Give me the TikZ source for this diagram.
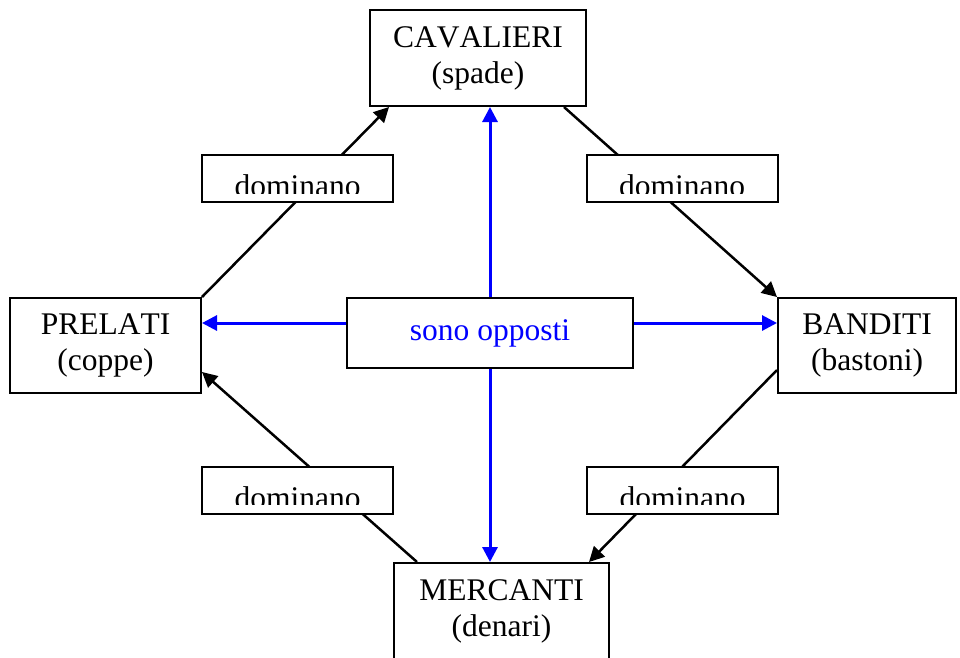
\documentclass[tikz,border=0pt]{standalone}
\usepackage{fontspec}
\setmainfont[Kerning=Off]{Liberation Serif}
\usetikzlibrary{shapes}
\usetikzlibrary{arrows.meta}
\tikzstyle{suit} = [rectangle, draw=black, line width=2pt, fill=white, align=center, inner sep=0pt, font=\fontsize{31.5}{36}\selectfont]
\tikzstyle{verb} = [rectangle, draw=black, line width=2pt, fill=white, minimum width=191pt, minimum height=47pt, inner sep=0pt]
\tikzstyle{verbtext} = [font=\fontsize{31.5}{36}\selectfont, inner sep=0pt, anchor=base]
\tikzstyle{dom} = [draw=black, line width=2.5pt, -{Triangle[length=15pt,width=15pt]}]
\tikzstyle{opp} = [draw=blue, line width=3pt, -{Triangle[length=15pt,width=15pt]}]

\begin{document}
\begin{tikzpicture}[x=1pt,y=-1pt]

    \useasboundingbox (0,0) rectangle (960,657);
    \clip (0,0) rectangle (960,657);

    \node[suit, minimum width=216pt, minimum height=96pt] (cav) at (478,58) {CAVALIERI\\(spade)};
    \node[suit, minimum width=191pt, minimum height=95pt] (prel) at (105.5,345.5) {PRELATI\\(coppe)};
    \node[suit, minimum width=178pt, minimum height=95pt] (band) at (867,345.5) {BANDITI\\(bastoni)};
    \node[suit, minimum width=215pt, minimum height=96pt] (merc) at (501.5,611) {MERCANTI\\(denari)};
    \node[suit, minimum width=286pt, minimum height=70pt, text=blue] (opp) at (490,333) {sono opposti};

    % black arrows, hidden under the dominano boxes
    \draw[dom] (prel.north east) -- ([xshift=20pt]cav.south west);
    \draw[dom] ([xshift=-23pt]cav.south east) -- (band.north west);
    \draw[dom] ([yshift=-24.5pt]band.west) -- ([xshift=-21pt]merc.north east);
    \draw[dom] ([xshift=24pt]merc.north west) -- ([yshift=-26.5pt]prel.east);

    % blue arrows
    \coordinate (oppL) at ([yshift=10pt]opp.west);
    \coordinate (oppR) at ([yshift=10pt]opp.east);
    \draw[opp] (opp.north) -- (opp.north |- cav.south);
    \draw[opp] (opp.south) -- (opp.south |- merc.north);
    \draw[opp] (oppL) -- (oppL -| prel.east);
    \draw[opp] (oppR) -- (oppR -| band.west);

    \foreach \name/\x/\y in {domA/297.5/178.5, domB/682/178.5, domC/297.5/490, domD/682.5/490} {
        \node[verb] (\name) at (\x,\y) {};
        \begin{scope}
            \clip (\name.north west) rectangle ([yshift=10pt]\name.south east);
            \node[verbtext] at ([yshift=-18pt]\name.center) {dominano};
        \end{scope}
    }

\end{tikzpicture}
\end{document}
